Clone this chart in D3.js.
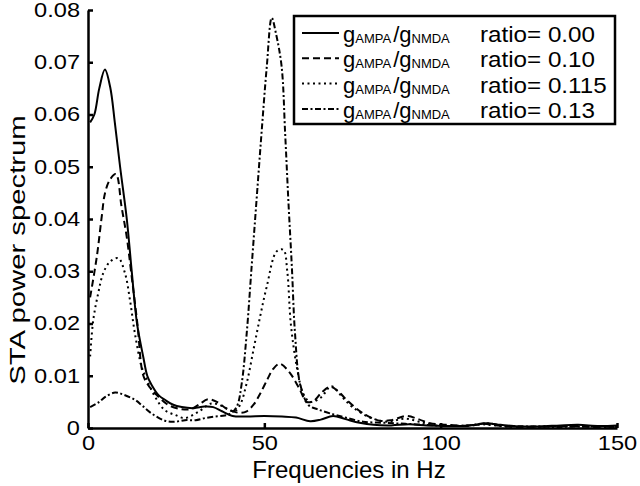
<!DOCTYPE html>
<html>
<head>
<meta charset="utf-8">
<script src="https://cdn.jsdelivr.net/npm/d3@7"></script>
<style>
  body { margin: 0; background: #fff; }
  svg { display: block; font-family: "Liberation Sans", Arial, sans-serif; }
  .axis path, .axis line { stroke: #000; stroke-width: 2.5; }
  .axis text { font-size: 20px; fill: #000; }
</style>
</head>
<body>
<svg id="chart" width="640" height="486"></svg>
<script>
// ratio 0.00 (solid)
var freqA = [0.6, 1.8, 3.2, 4.8, 6.3, 7.6, 9.1, 11, 12.4, 13.9, 15.7, 16.8, 18, 20, 21.8, 24, 26.6, 30, 33, 35.5, 38, 41, 45, 50, 55, 59, 63, 66, 69.5, 73, 77, 81, 86, 91, 96, 101, 106, 110, 113, 117, 122, 128, 134, 139, 145, 150];
var powerA = [0.0585, 0.0600, 0.0650, 0.0686, 0.0652, 0.0585, 0.0500, 0.0400, 0.0300, 0.0200, 0.0135, 0.0100, 0.0083, 0.0063, 0.0054, 0.0045, 0.0040, 0.0038, 0.0041, 0.0040, 0.0032, 0.0023, 0.0022, 0.0023, 0.0022, 0.0020, 0.0013, 0.0016, 0.0023, 0.0017, 0.0010, 0.0006, 0.0005, 0.0007, 0.0005, 0.0004, 0.0004, 0.0006, 0.0009, 0.0006, 0.0003, 0.0003, 0.0005, 0.0006, 0.0004, 0.0005];

// ratio 0.10 (dashed)
var freqB = [0.6, 2.5, 3.9, 4.8, 6.2, 7.9, 9.5, 11, 12.2, 14, 15.7, 17.5, 19.5, 22.8, 26.6, 29, 31.5, 34, 36.5, 39, 40.7, 43, 45, 47, 49, 51, 52.5, 54.4, 57.3, 60.1, 62, 64, 66, 68.6, 71, 73.3, 78, 82.8, 86, 90.3, 94, 97, 102, 108, 112, 116, 122, 130, 138, 144, 150];
var powerB = [0.0250, 0.0328, 0.0405, 0.0449, 0.0475, 0.0486, 0.0424, 0.0365, 0.0300, 0.0200, 0.0100, 0.0078, 0.0063, 0.0044, 0.0036, 0.0036, 0.0045, 0.0055, 0.0050, 0.0038, 0.0033, 0.0029, 0.0032, 0.0045, 0.0068, 0.0095, 0.0113, 0.0123, 0.0105, 0.0073, 0.0050, 0.0052, 0.0066, 0.0079, 0.0070, 0.0054, 0.0028, 0.0014, 0.0015, 0.0023, 0.0016, 0.0009, 0.0006, 0.0004, 0.0008, 0.0005, 0.0002, 0.0003, 0.0004, 0.0002, 0.0003];

// ratio 0.115 (dotted)
var freqC = [0.6, 1.5, 2.9, 4.3, 6.2, 8.6, 10.5, 11.9, 13.3, 15.2, 16.2, 19, 21.8, 24.7, 27.5, 31.3, 35, 38, 41.5, 43.1, 45, 46.9, 48.8, 50.7, 53.5, 55.4, 56.5, 57.5, 59.2, 61, 63, 66, 69, 72, 75, 80, 85, 90, 95, 100, 106, 112, 118, 125, 133, 140, 150];
var powerC = [0.0137, 0.0207, 0.0258, 0.0296, 0.0318, 0.0325, 0.0296, 0.0245, 0.0181, 0.0117, 0.0100, 0.0060, 0.0034, 0.0025, 0.0019, 0.0031, 0.0047, 0.0042, 0.0032, 0.0044, 0.0086, 0.0149, 0.0213, 0.0271, 0.0338, 0.0341, 0.0300, 0.0200, 0.0117, 0.0066, 0.0050, 0.0058, 0.0080, 0.0060, 0.0040, 0.0020, 0.0012, 0.0018, 0.0010, 0.0006, 0.0004, 0.0007, 0.0003, 0.0002, 0.0004, 0.0003, 0.0002];

// ratio 0.13 (dash-dot)
var freqD = [0.6, 3, 5, 7.7, 10, 13.3, 15.5, 18, 21.8, 24.5, 27.5, 30.5, 33.2, 36, 38.8, 40.5, 42.2, 43.6, 45, 46.4, 47.8, 49.2, 50.7, 52.1, 53.3, 54.9, 55.9, 56.8, 57.8, 58.7, 60.1, 62.5, 65, 68.6, 73, 78, 84, 90, 96, 102, 108, 113, 118, 125, 133, 141, 150];
var powerD = [0.0040, 0.0049, 0.0060, 0.0068, 0.0064, 0.0054, 0.0042, 0.0028, 0.0014, 0.0012, 0.0015, 0.0015, 0.0019, 0.0022, 0.0024, 0.0028, 0.0041, 0.0086, 0.0181, 0.0309, 0.0437, 0.0564, 0.0692, 0.0785, 0.0755, 0.0692, 0.0564, 0.0437, 0.0309, 0.0181, 0.0086, 0.0044, 0.0036, 0.0028, 0.0020, 0.0012, 0.0010, 0.0008, 0.0006, 0.0004, 0.0005, 0.0009, 0.0004, 0.0003, 0.0002, 0.0003, 0.0002];

var ratioLabels = ['0.00', '0.10', '0.115', '0.13'];
var xTicks = [0, 50, 100, 150];
var yTicks = [0, 0.01, 0.02, 0.03, 0.04, 0.05, 0.06, 0.07, 0.08];

var series = [
  { freq: freqA, power: powerA, dash: null },
  { freq: freqB, power: powerB, dash: '7,4' },
  { freq: freqC, power: powerC, dash: '2,3.5' },
  { freq: freqD, power: powerD, dash: '6,2.5,2,2.5' }
];

var svg = d3.select('#chart');

var x = d3.scaleLinear().domain([0, 150]).range([88, 617]);
var y = d3.scaleLinear().domain([0, 0.08]).range([428, 10]);

// the figure's lettering is a bit wider than plain Arial
var widen = function(sel, sx) {
  sel.each(function() {
    var t = d3.select(this);
    var tx = +t.attr('x') || 0, ty = +t.attr('y') || 0;
    t.attr('transform', 'translate(' + tx + ',' + ty + ') scale(' + sx + ',1)')
      .attr('x', 0).attr('y', 0);
  });
};

var line = d3.line()
  .x(function(d) { return x(d[0]); })
  .y(function(d) { return y(d[1]); })
  .curve(d3.curveCatmullRom.alpha(0.5));

series.forEach(function(s) {
  var pts = s.freq.map(function(f, i) { return [f, s.power[i]]; });
  svg.append('path')
    .attr('d', line(pts))
    .attr('fill', 'none')
    .attr('stroke', '#000')
    .attr('stroke-width', 2)
    .attr('stroke-dasharray', s.dash);
});

var xAxis = svg.append('g')
  .attr('class', 'axis')
  .attr('transform', 'translate(0,428)')
  .call(d3.axisBottom(x).tickValues(xTicks).tickFormat(d3.format('d'))
    .tickSizeInner(-5).tickSizeOuter(0).tickPadding(8));
widen(xAxis.selectAll('text'), 1.18);

var yAxis = svg.append('g')
  .attr('class', 'axis')
  .attr('transform', 'translate(88,0)')
  .call(d3.axisLeft(y).tickValues(yTicks)
    .tickFormat(function(d) { return d === 0 ? '0' : d3.format('.2f')(d); })
    .tickSizeInner(-5).tickSizeOuter(0).tickPadding(8));
widen(yAxis.selectAll('text'), 1.18);

svg.append('text')
  .attr('x', 349).attr('y', 478)
  .attr('text-anchor', 'middle')
  .style('font-size', '24px')
  .text('Frequencies in Hz');

svg.append('text')
  .attr('transform', 'translate(25,250) rotate(-90) scale(1.33,1)')
  .attr('text-anchor', 'middle')
  .style('font-size', '22px')
  .text('STA power spectrum');

// legend
var legend = svg.append('g');
legend.append('rect')
  .attr('x', 294).attr('y', 16).attr('width', 321).attr('height', 108)
  .attr('fill', '#fff').attr('stroke', '#000').attr('stroke-width', 2.5);

series.forEach(function(s, i) {
  var ly = 33 + i * 25.3;
  legend.append('line')
    .attr('x1', 302).attr('x2', 339).attr('y1', ly).attr('y2', ly)
    .attr('stroke', '#000').attr('stroke-width', 2)
    .attr('stroke-dasharray', s.dash);
  var t = legend.append('text')
    .attr('x', 343).attr('y', ly + 9)
    .style('font-size', '22px');
  t.append('tspan').text('g');
  t.append('tspan').style('font-size', '13px').attr('dy', 1).text('AMPA');
  t.append('tspan').attr('dy', -1).attr('dx', 2).text('/g');
  t.append('tspan').style('font-size', '13px').attr('dy', 1).text('NMDA');
  var r = legend.append('text')
    .attr('x', 480).attr('y', ly + 9)
    .style('font-size', '22px')
    .text('ratio= ' + ratioLabels[i]);
  widen(r, 1.1);
});
</script>
</body>
</html>
